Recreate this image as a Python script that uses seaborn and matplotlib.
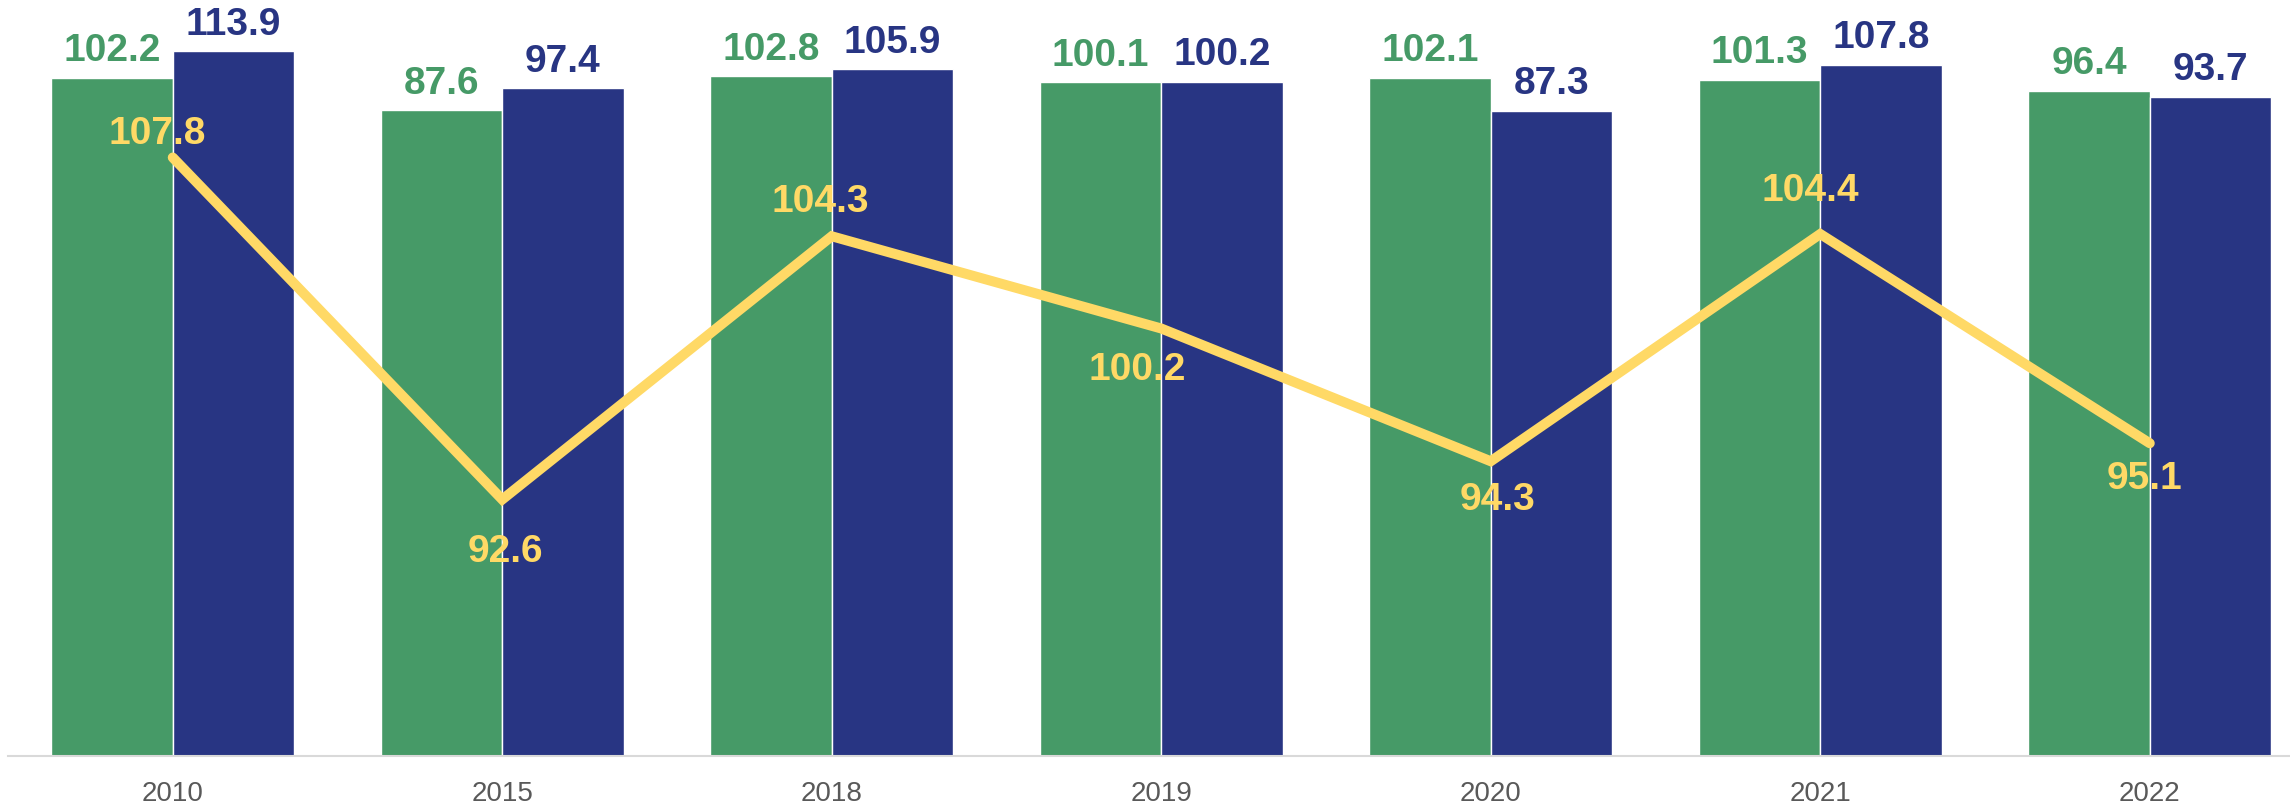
import numpy as np
import pandas as pd
import seaborn as sns
import matplotlib.pyplot as plt

years = ["2010", "2015", "2018", "2019", "2020", "2021", "2022"]
green_vals = [102.2, 87.6, 102.8, 100.1, 102.1, 101.3, 96.4]
blue_vals = [113.9, 97.4, 105.9, 100.2, 87.3, 107.8, 93.7]
line_vals = [107.8, 92.6, 104.3, 100.2, 94.3, 104.4, 95.1]

GREEN = "#469A67"
BLUE = "#283583"
YELLOW = "#FFD966"
BASE = -200  # eixo das barras começa em -200

sns.set_style("white")
plt.rcParams["font.family"] = ["Liberation Sans", "DejaVu Sans"]

tabela = pd.DataFrame({
    "ano": years * 2,
    "valor": green_vals + blue_vals,
    "serie": ["verde"] * len(years) + ["azul"] * len(years),
})

fig = plt.figure(figsize=(22.9, 8.05), dpi=100)
ax = fig.add_axes([8 / 2290, 49 / 805, 7 * 329.5 / 2290, 756 / 805])

sns.barplot(data=tabela, x="ano", y="valor", hue="serie", order=years,
            palette=[GREEN, BLUE], width=0.737, gap=0, saturation=1,
            legend=False, ax=ax)

ax.set_xlim(-0.5, 6.5)
ax.set_ylim(BASE, 136.8)
ax.set_xlabel("")
ax.set_ylabel("")
ax.set_yticks([])
for s in ["top", "left", "right"]:
    ax.spines[s].set_visible(False)
ax.spines["bottom"].set_color("#D9D9D9")
ax.spines["bottom"].set_linewidth(1.5)
ax.tick_params(axis="x", length=0, pad=18, labelsize=20, labelcolor="#595959")

# barras a partir do minimo do eixo + rotulos
for cont, cor in zip(ax.containers, [GREEN, BLUE]):
    for barra in cont:
        h = barra.get_height()
        barra.set_y(BASE)
        barra.set_height(h - BASE)
        ax.annotate(f"{h:.1f}", (barra.get_x() + barra.get_width() / 2, h),
                    xytext=(0, 12), textcoords="offset points",
                    ha="center", va="baseline", fontsize=28,
                    fontweight="bold", color=cor)

ax2 = ax.twinx()
x = np.arange(len(years))
sns.lineplot(x=x, y=line_vals, color=YELLOW, linewidth=7.2, ax=ax2,
             solid_capstyle="round", solid_joinstyle="miter")
ax2.set_ylim(81.2, 114.8)
ax2.set_yticks([])
ax2.set_ylabel("")
for s in ax2.spines.values():
    s.set_visible(False)

# deslocamento dos rotulos da linha (pontos)
dx = [-11, 2, -8, -17, 5, -7, -4]
dy = [17, -38, 25, -30, -28, 31, -26]
for i, v in enumerate(line_vals):
    ax2.annotate(f"{v:.1f}", (x[i], v), xytext=(dx[i], dy[i]),
                 textcoords="offset points", ha="center", va="center",
                 fontsize=28, fontweight="bold", color=YELLOW)

fig.savefig("out.png", dpi=100)
